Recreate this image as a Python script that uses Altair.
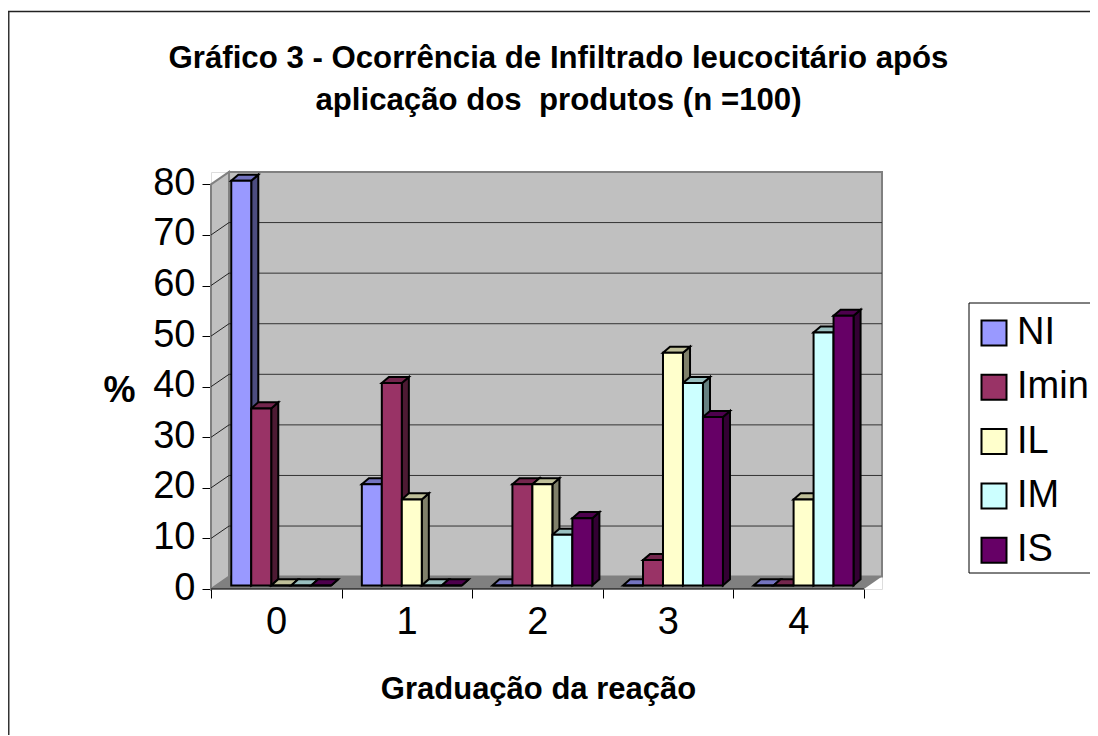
import altair as alt
import pandas as pd

categories = [0, 1, 2, 3, 4]
series = ["NI", "Imin", "IL", "IM", "IS"]
NI = [80, 20, 0, 0, 0]
Imin = [35, 40, 20, 5, 0]
IL = [0, 17, 20, 46, 17]
IM = [0, 0, 10, 40, 50]
IS = [0, 0, 13.3, 33.3, 53.3]
values = [NI, Imin, IL, IM, IS]

front = ["#9999FF", "#993366", "#FFFFCC", "#CCFFFF", "#660066"]
top = ["#7373BF", "#73264D", "#BFBF99", "#99BFBF", "#4D004D"]
side = ["#4D4D80", "#4D1A33", "#80806A", "#668080", "#330033"]
grid_values = [10, 20, 30, 40, 50, 60, 70]

FONT = "Liberation Sans"
DX, DY = 0.138, 2.45          # depth of the floor, in axis units
BW, GAP = 0.153, 0.155        # bar width, first-bar inset
BDX, BDY = 0.054, 1.2         # depth of a bar
BY = 0.71                     # bars stand slightly behind the front plane

XMAX, YMAX = 5 + DX, 80 + DY
W, H = 671, 417
PL, PT = 203, 164

xs = alt.Scale(domain=[0, XMAX], nice=False, zero=False)
ys = alt.Scale(domain=[0, YMAX], nice=False, zero=False)

x_axis = alt.Axis(
    values=categories + [5], grid=False, domain=False, tickColor="black", tickSize=9,
    labelExpr="datum.value < 5 ? datum.value : ''", labelOffset=65, labelPadding=5,
    labelFont=FONT, labelFontSize=38, labelColor="black", labelFlush=False,
    titleFont=FONT, titleFontSize=31, titleFontWeight="bold", titleColor="black",
    titleX=327, titleY=85, titleAnchor="middle", titleAlign="center",
    title="Graduação da reação",
)
y_axis = alt.Axis(
    values=[0, 10, 20, 30, 40, 50, 60, 70, 80], grid=False, domain=False,
    tickColor="black", tickSize=9, labelPadding=7, labelOffset=-1,
    labelFont=FONT, labelFontSize=38, labelColor="black",
    titleFont=FONT, titleFontSize=36, titleFontWeight="bold", titleColor="black",
    titleAngle=0, titleX=-92, titleY=218, titleAlign="center", titleBaseline="middle",
    title="%",
)

fronts, faces = [], []
for c, cat in enumerate(categories):
    for s, name in enumerate(series):
        v = values[s][c] + BY
        L = cat + GAP + s * BW
        R = L + BW
        fronts.append(dict(series=name, L=L, R=R, T=v, B=BY, order=s))
        i = f"{c}-{s}"
        faces += [
            dict(id="s" + i, kind="side", fill=side[s], x=R, y=v, y2=BY),
            dict(id="s" + i, kind="side", fill=side[s], x=R + BDX, y=v + BDY, y2=BY + BDY),
            dict(id="t" + i, kind="top", fill=top[s], x=L, y=v, y2=v),
            dict(id="t" + i, kind="top", fill=top[s], x=L + BDX, y=v + BDY, y2=v),
            dict(id="t" + i, kind="top", fill=top[s], x=R, y=v + BDY, y2=v),
            dict(id="t" + i, kind="top", fill=top[s], x=R + BDX, y=v + BDY, y2=v + BDY),
        ]
fronts = pd.DataFrame(fronts)
faces = pd.DataFrame(faces)


def X(field):
    return alt.X(field, type="quantitative", scale=xs, axis=x_axis)


def Y(field):
    return alt.Y(field, type="quantitative", scale=ys, axis=y_axis, stack=None)


back = alt.Chart(pd.DataFrame([dict(a=DX, b=5 + DX, c=DY, d=80 + DY)])).mark_rect(
    fill="#C0C0C0", stroke="#808080", strokeWidth=2
).encode(X("a"), x2="b", y=Y("c"), y2="d")

side_wall = alt.Chart(pd.DataFrame([
    dict(x=0, y=80, y2=0), dict(x=DX, y=80 + DY, y2=DY)
])).mark_area(fill="#C0C0C0", stroke="#808080", strokeWidth=2, orient="vertical").encode(
    X("x"), y=Y("y"), y2="y2"
)

floor = alt.Chart(pd.DataFrame([
    dict(x=0, y=0, y2=0), dict(x=DX, y=DY, y2=0),
    dict(x=5, y=DY, y2=0), dict(x=XMAX, y=DY, y2=DY),
])).mark_area(fill="#808080", orient="vertical").encode(X("x"), y=Y("y"), y2="y2")

back_grid = alt.Chart(pd.DataFrame({"v": [g + DY for g in grid_values], "a": DX, "b": 5 + DX})).mark_rule(
    color="#333333", strokeWidth=1
).encode(X("a"), x2="b", y=Y("v"))

side_grid = alt.Chart(pd.DataFrame(
    [dict(g=g, x=0, y=g) for g in grid_values] + [dict(g=g, x=DX, y=g + DY) for g in grid_values]
)).mark_line(color="#222222", strokeWidth=1).encode(X("x"), y=Y("y"), detail="g:N")

sides = alt.Chart(faces[faces.kind == "side"]).mark_area(
    stroke="black", strokeWidth=2, orient="vertical"
).encode(
    X("x"), y=Y("y"), y2="y2", fill=alt.Fill("fill:N", scale=None), detail="id:N"
)
tops = alt.Chart(faces[faces.kind == "top"]).mark_area(
    stroke="black", strokeWidth=2, orient="vertical"
).encode(
    X("x"), y=Y("y"), y2="y2", fill=alt.Fill("fill:N", scale=None), detail="id:N"
)

bars = alt.Chart(fronts).mark_rect(stroke="black", strokeWidth=2).encode(
    X("L"), x2="R", y=Y("B"), y2="T",
    color=alt.Color(
        "series:N",
        scale=alt.Scale(domain=series, range=front),
        legend=alt.Legend(
            title=None, orient="none", legendX=764, legendY=142, padding=0,
            symbolType="square", symbolSize=625, symbolStrokeColor="black",
            symbolStrokeWidth=2, labelFont=FONT, labelFontSize=38, labelColor="black",
            labelOffset=4, rowPadding=16.3, labelLimit=200, symbolOpacity=1,
        ),
    ),
)

front_edge = alt.Chart(pd.DataFrame([dict(a=0, b=5, y=0)])).mark_rule(color="black", strokeWidth=1).encode(
    X("a"), x2="b", y=Y("y")
)

frame_left = alt.Chart(pd.DataFrame([dict(k=0)])).mark_rule(color="#333333", strokeWidth=2).encode(
    x=alt.value(-PL + 0.5), y=alt.value(-PT + 3.5), y2=alt.value(H + 200)
)
frame_top = alt.Chart(pd.DataFrame([dict(k=0)])).mark_rule(color="#222222", strokeWidth=1.3).encode(
    x=alt.value(-PL), x2=alt.value(W + 300), y=alt.value(-PT + 3.5)
)
legend_box = alt.Chart(pd.DataFrame([dict(k=0)])).mark_rect(
    fill="white", stroke="black", strokeWidth=1
).encode(x=alt.value(758), x2=alt.value(W + 300), y=alt.value(131), y2=alt.value(401))

chart = alt.layer(
    frame_left, frame_top, legend_box, back, side_wall, floor, back_grid, side_grid,
    front_edge, sides, tops, bars,
).properties(
    width=W, height=H,
    padding={"left": PL, "top": PT, "right": 1082 - PL - W, "bottom": 727 - PT - H},
    autosize=alt.AutoSizeParams(type="none"),
    title=alt.TitleParams(
        text=["Gráfico 3 - Ocorrência de Infiltrado leucocitário após", "aplicação dos\u00a0 produtos (n =100)"],
        font=FONT, fontSize=31.2, fontWeight="bold", color="black", anchor="middle",
        dx=12, offset=-105.5, lineHeight=42,
    ),
).configure_view(stroke=None).configure(background="white")

chart.save("out.html", embed_options={"renderer": "svg", "actions": False})
